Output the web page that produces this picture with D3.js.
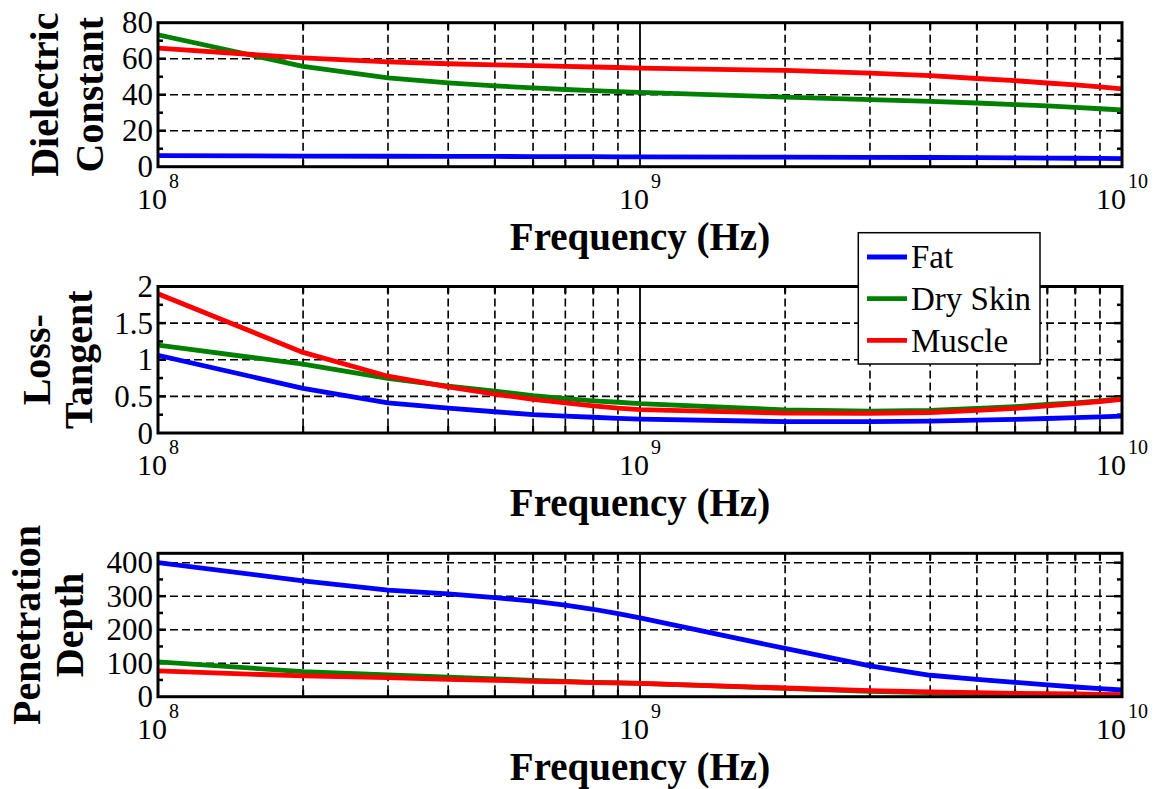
<!DOCTYPE html>
<html><head><meta charset="utf-8">
<script src="https://cdn.jsdelivr.net/npm/d3@7"></script>
<style>html,body{margin:0;padding:0;background:#fff;}</style>
</head><body>
<div id="chart"></div>
<script>
// ---- data ----
const freqs = [1e8,2e8,3e8,4e8,5e8,6e8,7e8,8e8,9e8,1e9,2e9,3e9,4e9,5e9,6e9,7e9,8e9,9e9,1e10];
const seriesNames = ["Fat","Dry Skin","Muscle"];
const seriesColors = ["#0000ff","#008000","#ff0000"];

const fatEps    = [6.1,5.9,5.8,5.7,5.7,5.6,5.6,5.6,5.5,5.5,5.3,5.2,5.1,5.0,4.9,4.8,4.7,4.6,4.5];
const skinEps   = [73.3,55.7,49.4,46.6,44.9,43.8,42.9,42.3,41.7,41.3,38.7,37.3,36.3,35.4,34.5,33.8,33.0,32.2,31.5];
const muscleEps = [65.9,60.4,58.2,57.2,56.6,56.1,55.7,55.4,55.1,54.8,53.5,52.0,50.6,49.0,47.8,46.5,45.4,44.3,43.2];

const fatTan    = [1.06,0.61,0.41,0.34,0.29,0.25,0.23,0.215,0.20,0.19,0.155,0.154,0.162,0.175,0.186,0.198,0.21,0.22,0.23];
const skinTan   = [1.20,0.94,0.745,0.64,0.57,0.51,0.47,0.44,0.42,0.40,0.315,0.30,0.31,0.335,0.36,0.39,0.41,0.44,0.47];
const muscleTan = [1.90,1.10,0.775,0.63,0.53,0.46,0.41,0.37,0.34,0.32,0.27,0.268,0.28,0.31,0.335,0.37,0.40,0.43,0.46];

const fatDepth    = [400,346,318,307,296,285,273,261,248,235,144,92,64,52,43,35,29,24,20];
const skinDepth   = [104,75,65,58,53,49,46,43,41,40,25,16,12,10,8,7,6,5,5];
const muscleDepth = [77,62,57,52,49,46,44,42,41,40,26,18,14,12,10,9,8,7,6];

const xTickExponents = [8,9,10];
const epsTicks = [0,20,40,60,80];
const tanTicks = [0,0.5,1,1.5,2];
const depthTicks = [0,100,200,300,400];
const xLabel = "Frequency (Hz)";

// ---- layout ----
const W = 1163, H = 789;
const left = 158, right = 1122;
const panels = [
  {top:22.7, bottom:166.7, domain:[0,80], ticks:epsTicks, minor:10, data:[fatEps,skinEps,muscleEps],
   title:["Dielectric","Constant"], titleX:[58,103]},
  {top:286.5, bottom:433, domain:[0,2], ticks:tanTicks, minor:0.25, data:[fatTan,skinTan,muscleTan],
   title:["Loss-","Tangent"], titleX:[50,92]},
  {top:553.3, bottom:696.7, domain:[0,428], ticks:depthTicks, minor:50, data:[fatDepth,skinDepth,muscleDepth],
   title:["Penetration","Depth"], titleX:[40,83]}
];

const svg = d3.select("#chart").append("svg").attr("width",W).attr("height",H)
  .style("background","#fff");

const x = d3.scaleLog().domain([1e8,1e10]).range([left,right]);
const minorX = [];
for (let d=8; d<10; d++) for (let m=2; m<=9; m++) minorX.push(m*Math.pow(10,d));

panels.forEach((p,pi) => {
  const y = d3.scaleLinear().domain(p.domain).range([p.bottom,p.top]);
  const g = svg.append("g");
  const clipId = "clip"+pi;
  svg.append("clipPath").attr("id",clipId).append("rect")
    .attr("x",left).attr("y",p.top).attr("width",right-left).attr("height",p.bottom-p.top);

  // vertical grid (minor, dashed)
  g.selectAll(".vg").data(minorX).enter().append("line")
    .attr("x1",d=>x(d)).attr("x2",d=>x(d)).attr("y1",p.top).attr("y2",p.bottom)
    .attr("stroke","#000").attr("stroke-width",1.6).attr("stroke-dasharray","8,4");
  // major vertical grid at 1e9 (solid)
  g.append("line").attr("x1",x(1e9)).attr("x2",x(1e9)).attr("y1",p.top).attr("y2",p.bottom)
    .attr("stroke","#000").attr("stroke-width",1.8);
  // horizontal grid (dashed)
  g.selectAll(".hg").data(p.ticks.filter(t=>t>p.domain[0] && t<p.domain[1])).enter().append("line")
    .attr("x1",left).attr("x2",right).attr("y1",d=>y(d)).attr("y2",d=>y(d))
    .attr("stroke","#000").attr("stroke-width",1.6).attr("stroke-dasharray","8,4");

  // x ticks (bottom & top, inward)
  [p.bottom, p.top].forEach((yy,i) => {
    const dir = i===0 ? -1 : 1;
    g.selectAll(null).data(minorX).enter().append("line")
      .attr("x1",d=>x(d)).attr("x2",d=>x(d)).attr("y1",yy).attr("y2",yy+dir*7)
      .attr("stroke","#000").attr("stroke-width",2.2);
  });
  // y ticks (left & right, inward): major + minor
  const minorY = d3.range(p.domain[0], p.domain[1]+1e-9, p.minor).filter(v=>v>p.domain[0]+1e-9 && v<p.domain[1]-1e-9);
  [left, right].forEach((xx,i) => {
    const dir = i===0 ? 1 : -1;
    g.selectAll(null).data(minorY).enter().append("line")
      .attr("y1",d=>y(d)).attr("y2",d=>y(d)).attr("x1",xx)
      .attr("x2",d=>xx+dir*(p.ticks.some(t=>Math.abs(t-d)<1e-9)?8:5))
      .attr("stroke","#000").attr("stroke-width",2.5);
  });

  // data lines
  const line = d3.line().x((d,i)=>x(freqs[i])).y(d=>y(d));
  p.data.forEach((arr,si) => {
    g.append("path").datum(arr).attr("d",line)
      .attr("fill","none").attr("stroke",seriesColors[si]).attr("stroke-width",4.8)
      .attr("stroke-linejoin","round").attr("clip-path","url(#"+clipId+")");
  });

  // box
  g.append("rect").attr("x",left).attr("y",p.top).attr("width",right-left).attr("height",p.bottom-p.top)
    .attr("fill","none").attr("stroke","#000").attr("stroke-width",3);

  // y tick labels
  g.selectAll(".yl").data(p.ticks).enter().append("text")
    .attr("x",153).attr("y",d=>y(d)).attr("dy","0.34em").attr("text-anchor","end")
    .attr("font-family","'Liberation Serif', serif").attr("font-size",31).attr("fill","#000")
    .text(d=>String(d));

  // x tick labels 10^n
  xTickExponents.forEach(e => {
    const t = g.append("text").attr("x",x(Math.pow(10,e))).attr("y",p.bottom+42)
      .attr("text-anchor","middle").attr("font-family","'Liberation Serif', serif")
      .attr("font-size",30).attr("fill","#000");
    t.append("tspan").text("10");
    t.append("tspan").attr("dx",2).attr("dy",-21).attr("font-size",20).text(String(e));
  });

  // x label
  g.append("text").attr("x",(left+right)/2).attr("y",p.bottom+83).attr("text-anchor","middle")
    .attr("font-family","'Liberation Serif', serif").attr("font-weight","bold").attr("font-size",39)
    .attr("fill","#000").text(xLabel);

  // y title (two lines, rotated)
  const cy = (p.top+p.bottom)/2;
  p.title.forEach((ln,li) => {
    g.append("text").attr("transform",`translate(${p.titleX[li]},${cy}) rotate(-90)`)
      .attr("text-anchor","middle").attr("font-family","'Liberation Serif', serif")
      .attr("font-weight","bold").attr("font-size",40).attr("fill","#000").text(ln);
  });
});

// legend
const lg = svg.append("g");
lg.append("rect").attr("x",858.3).attr("y",232.7).attr("width",181.7).attr("height",131.3)
  .attr("fill","#fff").attr("stroke","#000").attr("stroke-width",1.5);
seriesNames.forEach((n,i) => {
  const yy = 257 + i*41.7;
  lg.append("line").attr("x1",867).attr("x2",907).attr("y1",yy).attr("y2",yy)
    .attr("stroke",seriesColors[i]).attr("stroke-width",4.8);
  lg.append("text").attr("x",911).attr("y",yy+11.3).attr("font-family","'Liberation Serif', serif")
    .attr("font-size",33).attr("fill","#000").text(n);
});
</script>
</body></html>
